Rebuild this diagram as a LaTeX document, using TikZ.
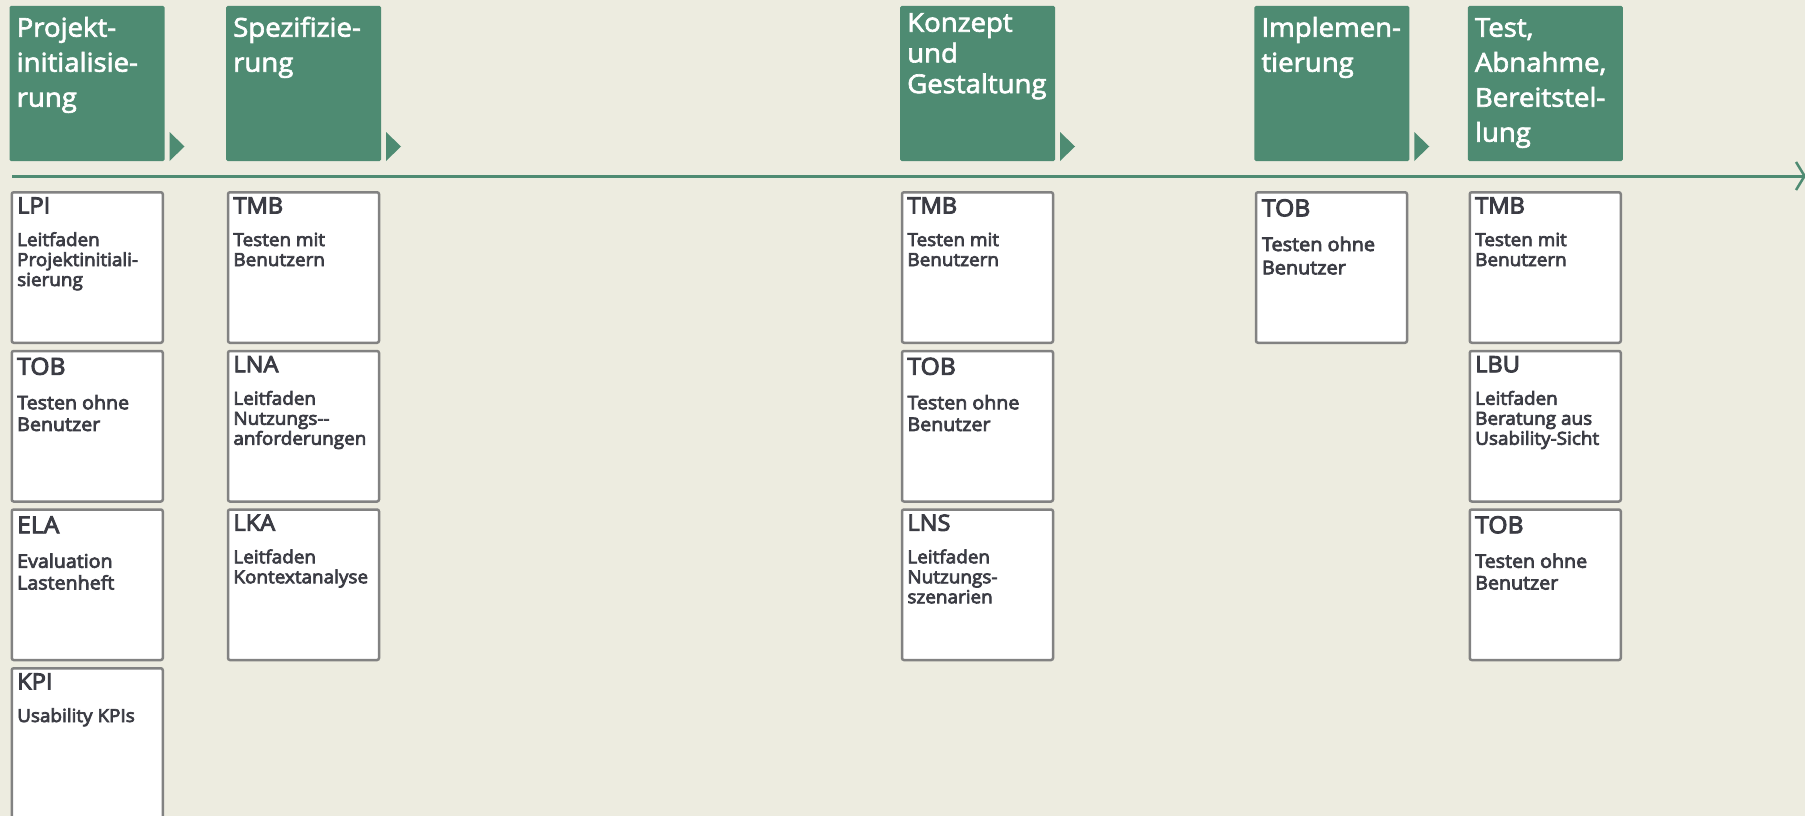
\documentclass[tikz,border=0pt]{standalone}
\usepackage{fontspec}
\setmainfont{Open Sans}
\newfontfamily\sbf[FakeBold=4,FakeStretch=1.05]{Open Sans}
\newfontfamily\hbf[FakeBold=2.5,FakeStretch=1.06]{Open Sans}
\usetikzlibrary{arrows.meta}
\definecolor{bg}{HTML}{EDECE0}
\definecolor{hdr}{HTML}{4E8B72}
\definecolor{txt}{HTML}{3B3C44}
\definecolor{bord}{HTML}{828282}
\begin{document}
\begin{tikzpicture}[x=1pt,y=-1pt,
  phase/.style={fill=hdr, minimum width=155pt, minimum height=155pt, inner sep=0pt, outer sep=0pt, rounded corners=1.5pt},
  phasetxt/.style={anchor=base west, xshift=7pt, yshift=-30.7pt, inner sep=0pt, text=white, font=\hbf\fontsize{26}{35}\selectfont},
  phasetxtk/.style={anchor=base west, xshift=7pt, yshift=-25.7pt, inner sep=0pt, text=white, font=\hbf\fontsize{26}{30.7}\selectfont},
  tri/.style={fill=hdr},
  card/.style={draw=bord, line width=2.5pt, fill=white, minimum width=151pt, minimum height=150.5pt, inner sep=0pt, rounded corners=2pt},
  abbrA/.style={anchor=base west, xshift=6.5pt, yshift=-22.5pt, inner sep=0pt, text=txt, font=\sbf\fontsize{22.5}{27}\selectfont},
  descA/.style={anchor=base west, xshift=6.5pt, yshift=-55pt, inner sep=0pt, text=txt, font=\sbf\fontsize{18}{20}\selectfont},
  abbrB/.style={anchor=base west, xshift=6.5pt, yshift=-25pt, inner sep=0pt, text=txt, font=\sbf\fontsize{23.5}{28}\selectfont},
  descB/.style={anchor=base west, xshift=6.5pt, yshift=-59.5pt, inner sep=0pt, text=txt, font=\sbf\fontsize{18.7}{21.7}\selectfont},
  abbrC/.style={anchor=base west, xshift=7pt, yshift=-25.3pt, inner sep=0pt, text=txt, font=\sbf\fontsize{23.5}{28}\selectfont},
  descC/.style={anchor=base west, xshift=7pt, yshift=-60pt, inner sep=0pt, text=txt, font=\sbf\fontsize{18.9}{23.3}\selectfont},
  timeline/.style={draw=hdr, line width=3pt, -{Straight Barb[length=8.5pt,width=28pt,line width=2.5pt,sharp]}}
]
\useasboundingbox (0,0) rectangle (1805,816);
\fill[bg] (0,0) rectangle (1805,816);

% phase headers
\node[phase] (h1) at (87,83.5) {};
\node[phase] (h2) at (303.5,83.5) {};
\node[phase] (h3) at (977.5,83.5) {};
\node[phase] (h4) at (1331.75,83.5) {};
\node[phase] (h5) at (1545.25,83.5) {};

\node[phasetxt] (h1t) at (h1.north west) {\parbox[t]{150pt}{\raggedright Projekt-\\initialisie-\\rung}};
\node[phasetxt] (h2t) at (h2.north west) {\parbox[t]{150pt}{\raggedright Spezifizie-\\rung}};
\node[phasetxtk] (h3t) at (h3.north west) {\parbox[t]{150pt}{\raggedright Konzept\\und\\Gestaltung}};
\node[phasetxt] (h4t) at (h4.north west) {\parbox[t]{150pt}{\raggedright Implemen-\\tierung}};
\node[phasetxt] (h5t) at (h5.north west) {\parbox[t]{150pt}{\raggedright Test,\\Abnahme,\\Bereitstel-\\lung}};

\foreach \h in {h1,h2,h3,h4}{
  \fill[tri] ([xshift=5pt]\h.south east) -- ++(15pt,14.5pt) -- ++(-15pt,14.5pt) -- cycle;
}

% timeline
\coordinate (ts) at (12,176);
\coordinate (te) at (1806,176);
\draw[timeline] (ts) -- (te);

% column 1
\node[card] (c11) at (87.25,267.5) {};
\node[abbrA] (c11a) at (c11.north west) {LPI};
\node[descA] (c11d) at (c11.north west) {\parbox[t]{148pt}{\raggedright Leitfaden\\Projektinitiali-\\sierung}};
\node[card] (c12) at (87.25,426.25) {};
\node[abbrB] (c12a) at (c12.north west) {TOB};
\node[descB] (c12d) at (c12.north west) {\parbox[t]{148pt}{\raggedright Testen ohne\\Benutzer}};
\node[card] (c13) at (87.25,584.75) {};
\node[abbrB] (c13a) at (c13.north west) {ELA};
\node[descB] (c13d) at (c13.north west) {\parbox[t]{148pt}{\raggedright Evaluation\\Lastenheft}};
\node[card] (c14) at (87.25,743.5) {};
\node[abbrA] (c14a) at (c14.north west) {KPI};
\node[descA] (c14d) at (c14.north west) {\parbox[t]{148pt}{\raggedright Usability KPIs}};

% column 2
\node[card] (c21) at (303.5,267.5) {};
\node[abbrA] (c21a) at (c21.north west) {TMB};
\node[descA] (c21d) at (c21.north west) {\parbox[t]{148pt}{\raggedright Testen mit\\Benutzern}};
\node[card] (c22) at (303.5,426.25) {};
\node[abbrA] (c22a) at (c22.north west) {LNA};
\node[descA] (c22d) at (c22.north west) {\parbox[t]{148pt}{\raggedright Leitfaden\\Nutzungs-\kern0pt-\\anforderungen}};
\node[card] (c23) at (303.5,584.75) {};
\node[abbrA] (c23a) at (c23.north west) {LKA};
\node[descA] (c23d) at (c23.north west) {\parbox[t]{148pt}{\raggedright Leitfaden\\Kontextanalyse}};

% column 3
\node[card] (c31) at (977.5,267.5) {};
\node[abbrA] (c31a) at (c31.north west) {TMB};
\node[descA] (c31d) at (c31.north west) {\parbox[t]{148pt}{\raggedright Testen mit\\Benutzern}};
\node[card] (c32) at (977.5,426.25) {};
\node[abbrB] (c32a) at (c32.north west) {TOB};
\node[descB] (c32d) at (c32.north west) {\parbox[t]{148pt}{\raggedright Testen ohne\\Benutzer}};
\node[card] (c33) at (977.5,584.75) {};
\node[abbrA] (c33a) at (c33.north west) {LNS};
\node[descA] (c33d) at (c33.north west) {\parbox[t]{148pt}{\raggedright Leitfaden\\Nutzungs-\\szenarien}};

% column 4
\node[card] (c41) at (1331.5,267.5) {};
\node[abbrC] (c41a) at (c41.north west) {TOB};
\node[descC] (c41d) at (c41.north west) {\parbox[t]{148pt}{\raggedright Testen ohne\\Benutzer}};

% column 5
\node[card] (c51) at (1545.25,267.5) {};
\node[abbrA] (c51a) at (c51.north west) {TMB};
\node[descA] (c51d) at (c51.north west) {\parbox[t]{148pt}{\raggedright Testen mit\\Benutzern}};
\node[card] (c52) at (1545.25,426.25) {};
\node[abbrA] (c52a) at (c52.north west) {LBU};
\node[descA] (c52d) at (c52.north west) {\parbox[t]{148pt}{\raggedright Leitfaden\\Beratung aus\\Usability-Sicht}};
\node[card] (c53) at (1545.25,584.75) {};
\node[abbrB] (c53a) at (c53.north west) {TOB};
\node[descB] (c53d) at (c53.north west) {\parbox[t]{148pt}{\raggedright Testen ohne\\Benutzer}};
\end{tikzpicture}
\end{document}
